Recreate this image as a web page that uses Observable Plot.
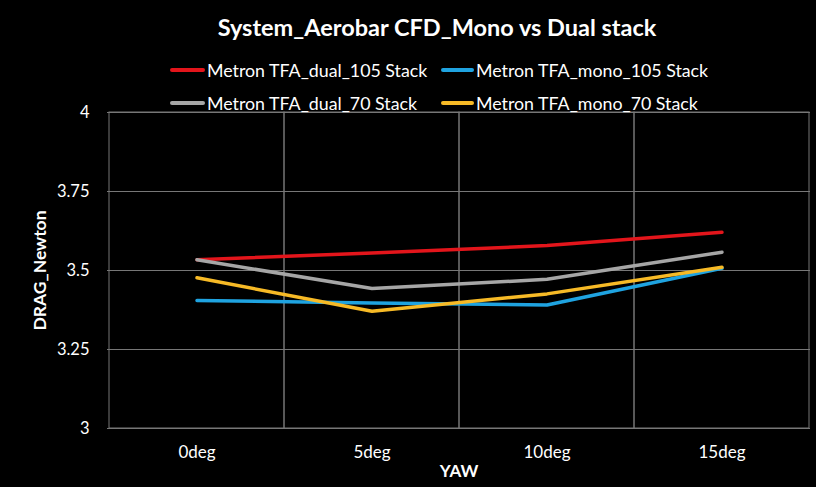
<!DOCTYPE html>
<html><head><meta charset="utf-8">
<script src="https://cdn.jsdelivr.net/npm/d3@7"></script>
<script src="https://cdn.jsdelivr.net/npm/@observablehq/plot@0.6"></script>
<style>
body{margin:0;background:#000;font-family:Lato,"Open Sans",sans-serif;color:#fff;width:816px;overflow:hidden}
#head{position:relative;height:100px}
#title{position:absolute;top:13px;left:37px;width:800px;text-align:center;font-weight:bold;font-size:23.5px}
.leg{position:absolute;font-size:17.8px;display:flex;align-items:center;white-space:nowrap}
.sw{display:inline-block;height:4px;border-radius:2px;margin-right:2px}
</style></head>
<body>
<div id="head"><div id="title">System_Aerobar CFD_Mono vs Dual stack</div></div>
<div id="chart"></div>
<script>
const categories = ["0deg","5deg","10deg","15deg"];
const seriesNames = ["Metron TFA_dual_105 Stack","Metron TFA_mono_105 Stack","Metron TFA_dual_70 Stack","Metron TFA_mono_70 Stack"];
const seriesColors = ["#E3151B","#1FA3E0","#A6A6A6","#F7BA26"];
const dual105 = [3.534, 3.555, 3.579, 3.621];
const mono105 = [3.405, 3.397, 3.391, 3.507];
const dual70  = [3.534, 3.443, 3.472, 3.558];
const mono70  = [3.477, 3.371, 3.426, 3.510];
const yTicks = [3, 3.25, 3.5, 3.75, 4];
const yTickLabels = ["3","3.25","3.5","3.75","4"];

const seriesValues = [dual105, mono105, dual70, mono70];
const data = [];
seriesNames.forEach((s, i) => categories.forEach((c, j) => data.push({series: s, yaw: c, value: seriesValues[i][j]})));

// legend
const head = document.getElementById("head");
const legPos = [[170,59,35],[441,59,33],[170,92,35],[441,92,33]];
seriesNames.forEach((s,i)=>{
  const d = document.createElement("div");
  d.className="leg";
  d.style.left = legPos[i][0]+"px"; d.style.top = legPos[i][1]+"px";
  d.innerHTML = `<span class="sw" style="width:${legPos[i][2]}px;background:${seriesColors[i]}"></span>${s}`;
  head.appendChild(d);
});

const chart = Plot.plot({
  width: 816, height: 387,
  marginLeft: 107, marginRight: 6, marginTop: 12, marginBottom: 59,
  style: {background: "#000", color: "#fff", fontFamily: "Lato, 'Open Sans', sans-serif", fontSize: "16px"},
  x: {type: "band", domain: categories, padding: 0, label: null},
  y: {domain: [3, 4], label: null},
  color: {domain: seriesNames, range: seriesColors},
  marks: [
    Plot.barY(categories, {x: d => d, y1: 3, y2: 4, fill: "none", stroke: "#777", strokeWidth: 1}),
    Plot.ruleY(yTicks, {y: d => d, stroke: "#777", strokeWidth: 1}),
    Plot.line(data, {x: "yaw", y: "value", z: "series", stroke: "series", strokeWidth: 3.5}),
    Plot.axisX({tickSize: 0, tickPadding: 17, fontSize: 17, label: null}),
    Plot.axisY({ticks: yTicks, tickFormat: (d,i)=>yTickLabels[i], tickSize: 0, tickPadding: 18, fontSize: 16.5, label: null}),
    Plot.text(["YAW"], {frameAnchor: "bottom", dy: 48, text: d => d, fontWeight: "bold", fontSize: 17}),
    Plot.text(["DRAG_Newton"], {frameAnchor: "left", dx: -67, rotate: -90, textAnchor: "middle", text: d => d, fontWeight: "bold", fontSize: 17.5})
  ]
});
document.getElementById("chart").appendChild(chart);
</script>
</body></html>
